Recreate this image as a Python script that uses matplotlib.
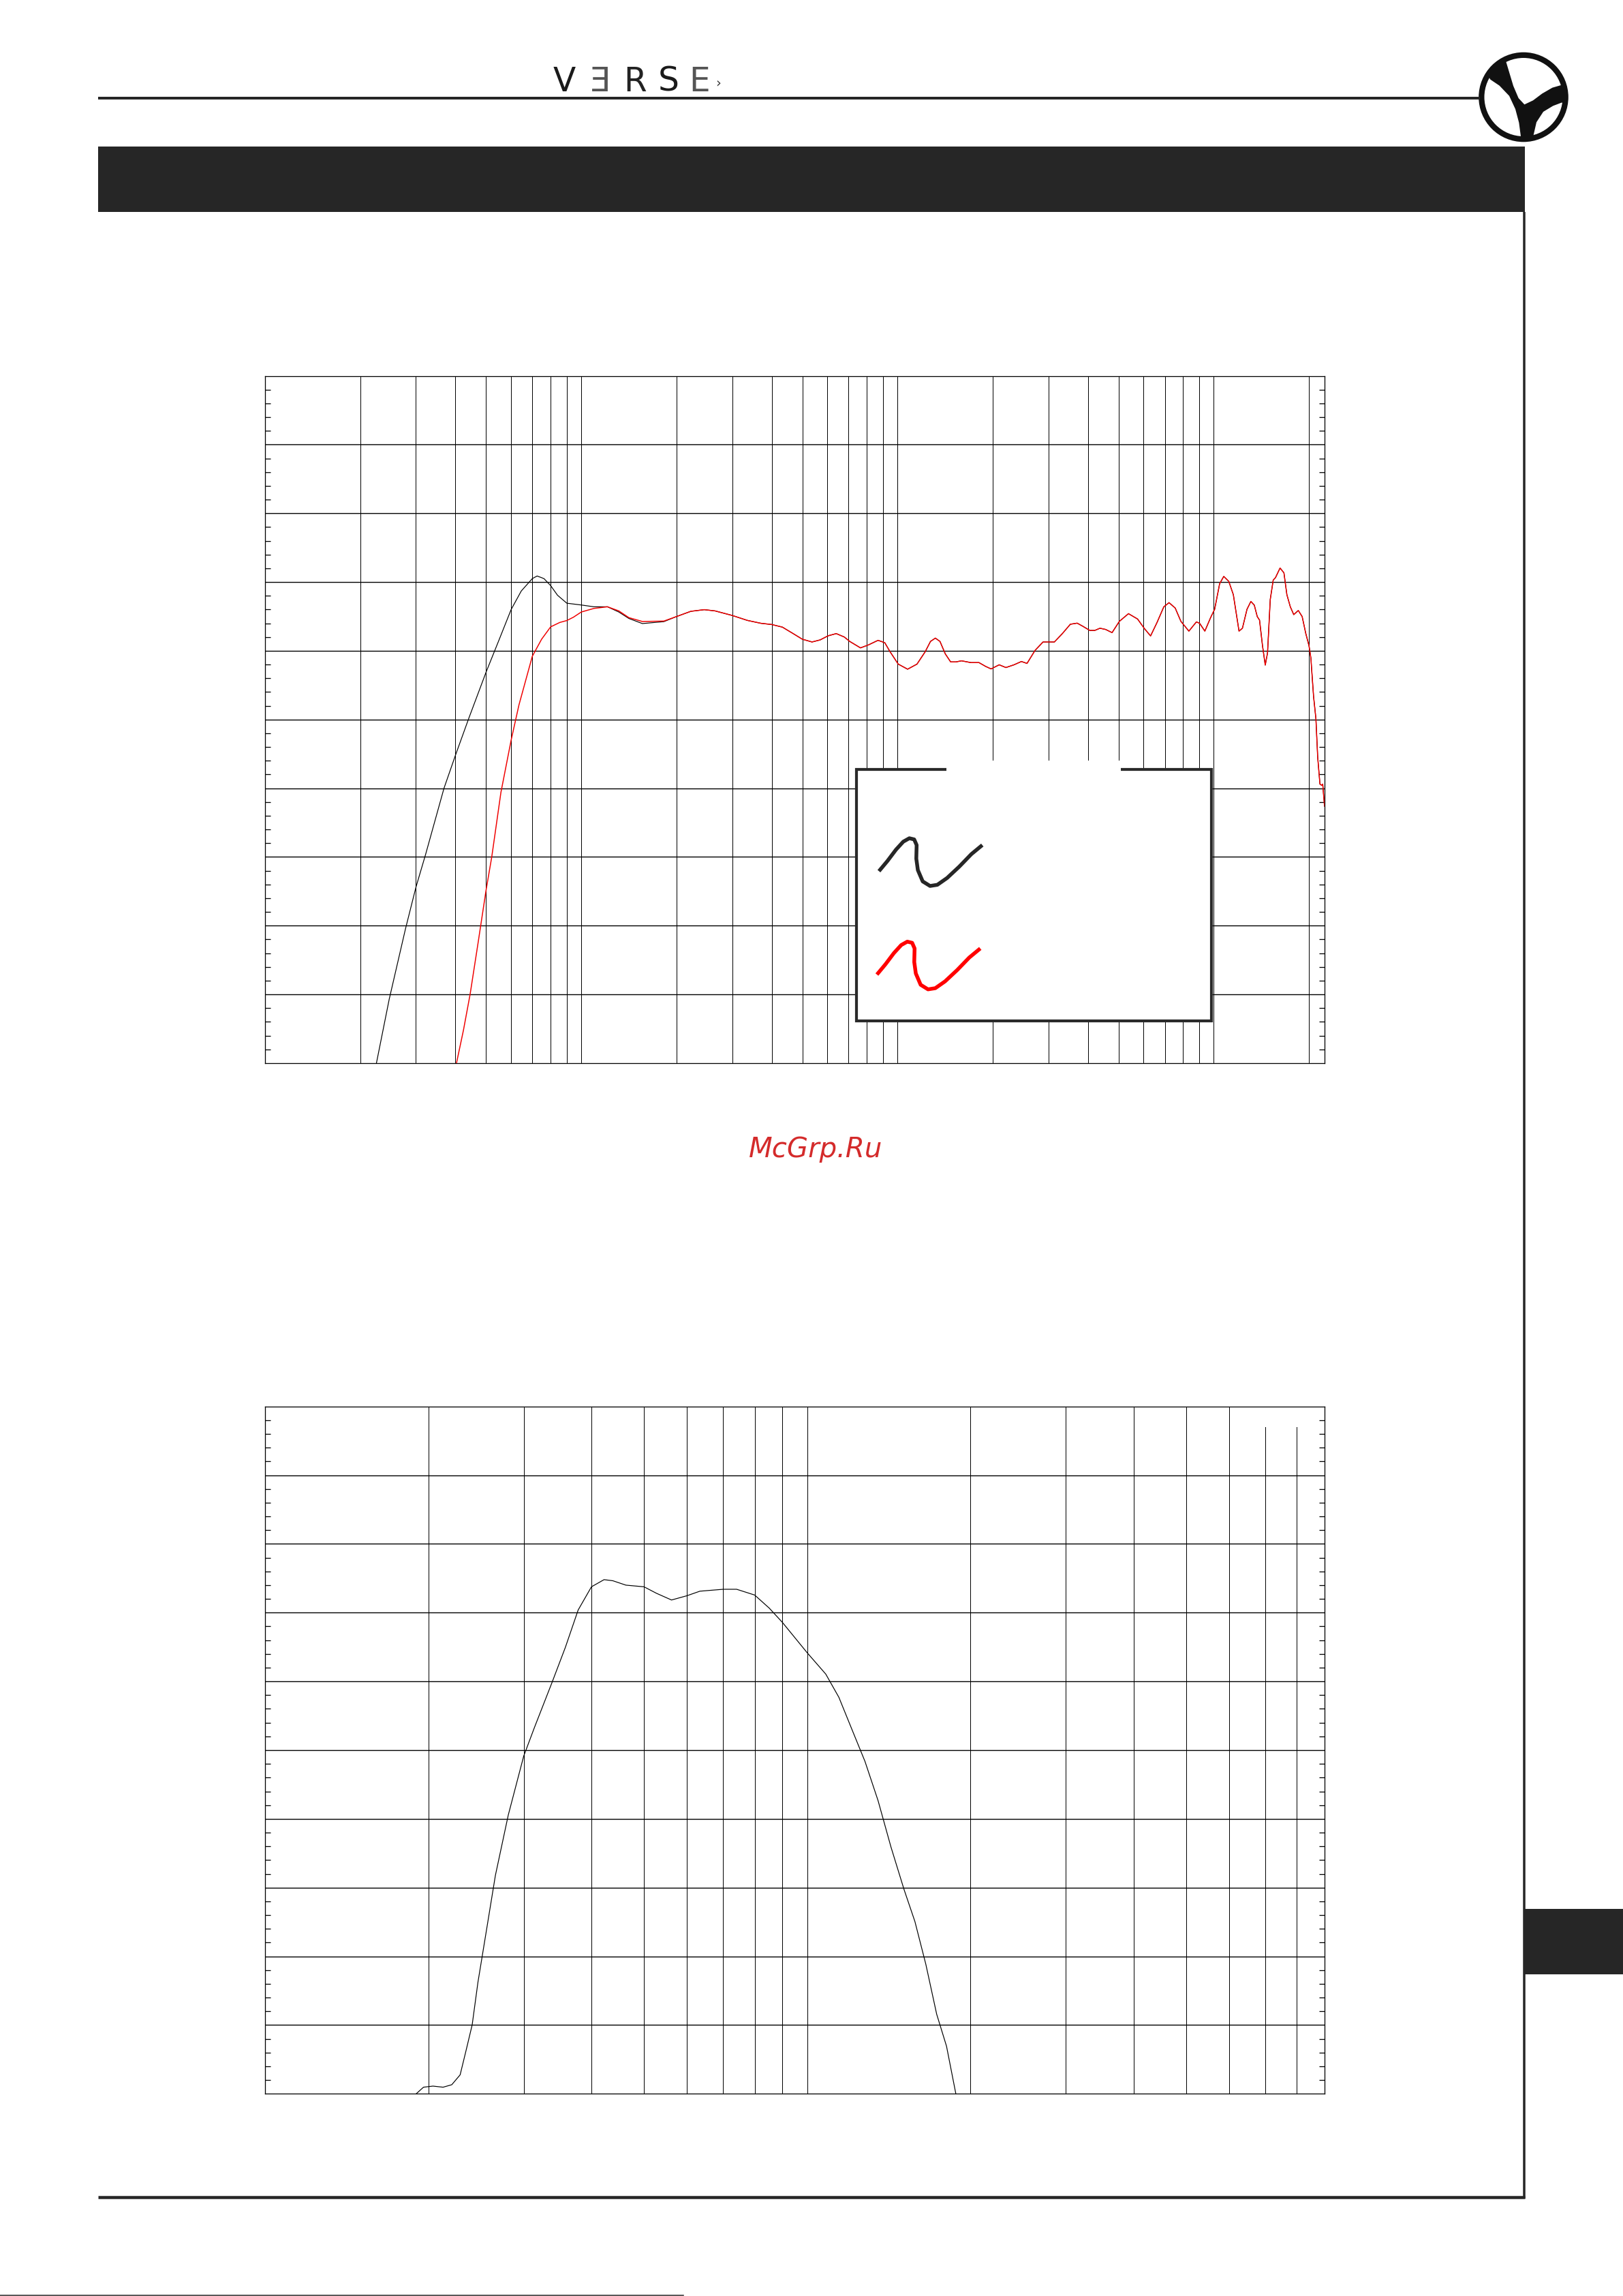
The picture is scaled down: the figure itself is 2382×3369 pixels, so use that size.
import numpy as np
import matplotlib
matplotlib.use('Agg')
import matplotlib.pyplot as plt
from matplotlib.patches import Rectangle, Circle, Polygon
from matplotlib.ticker import FixedLocator, NullLocator

W, H = 2382, 3369
DPI = 100
PX = 72 / DPI          # points per pixel

#%% Data (frequency in Hz, level in dB)
# top chart, red curve
red_freq = [40.3, 42.4, 44.5, 47.2, 50, 52.1, 55.7, 60, 63.5, 70, 74.9, 80, 85.5, 90, 94.4,
            100, 109.6, 121, 131.4, 141.4, 156, 182.4, 200, 222, 244.8, 264.8, 300, 335,
            369.6, 400, 432.4, 467.6, 500, 536.5, 569.1, 603.4, 640, 678.7, 706, 763.5,
            809.6, 867.6, 911, 947, 1005, 1076, 1152, 1223, 1271, 1317, 1362, 1416, 1472,
            1531, 1593, 1706, 1809, 1900, 1976, 2096, 2201, 2335, 2464, 2567, 2720, 2884,
            3133, 3320, 3519, 3698, 3855, 4053, 4204, 4366, 4550, 4768, 5028, 5373, 5741,
            6036, 6311, 6612, 6950, 7219, 7550, 7870, 8341, 8810, 9018, 9369, 9765, 10062,
            10435, 10752, 11152, 11529, 12016, 12318, 12735, 13100, 13430, 13720, 13952,
            14256, 14544, 14787, 15084, 15412, 15670, 16199, 16664, 17025, 17456, 17896,
            18500, 19028, 19540, 20000, 20270, 20680, 21030, 21310, 21660, 21950, 22100, 22390]
red_spl = [50, 52.4, 55.0, 58.8, 62.6, 65.0, 69.7, 73.5, 76.05, 79.6, 80.84, 81.74, 82.06, 82.2,
           82.44, 82.82, 83.08, 83.2, 82.9, 82.41, 82.13, 82.16, 82.49, 82.87, 82.99, 82.9,
           82.57, 82.21, 82.0, 81.91, 81.72, 81.25, 80.84, 80.64, 80.79, 81.09, 81.25, 81.0,
           80.68, 80.21, 80.43, 80.76, 80.59, 79.93, 79.03, 78.66, 79.03, 79.93, 80.68, 80.92,
           80.68, 79.77, 79.19, 79.19, 79.27, 79.14, 79.14, 78.86, 78.68, 78.98, 78.78, 78.98,
           79.22, 79.08, 80.02, 80.64, 80.64, 81.25, 81.93, 82.01, 81.78, 81.48, 81.48, 81.64,
           81.55, 81.32, 82.14, 82.70, 82.31, 81.61, 81.08, 82.05, 83.2, 83.5, 83.11, 82.14,
           81.43, 82.10, 82.0, 81.43, 82.40, 83.02, 84.88, 85.41, 85.05, 84.08, 81.43, 81.64,
           83.02, 83.59, 83.32, 82.49, 82.23, 80.37, 78.96, 79.84, 83.73, 85.14, 85.32, 86.02,
           85.67, 84.08, 83.2, 82.63, 82.93, 82.49, 81.25, 80.37, 79.49, 76.66, 75.07, 72.24,
           70.30, 70.21, 70.3, 68.7]

# top chart, black curve below 200 Hz (above that it sits under the red one)
black_freq_lf = [22.5, 24.7, 27.8, 30, 32.2, 36.8, 40, 44.1, 50, 54.7, 60, 64.6, 70, 72.5, 76.2,
                 80, 84.1, 90, 100, 109.6, 121, 131.4, 141.4, 156, 182.4]
black_spl_lf = [50, 54.66, 59.77, 62.8, 65.2, 70.0, 72.4, 75.1, 78.45, 80.68, 83.0, 84.35, 85.25,
                85.44, 85.25, 84.74, 84.04, 83.46, 83.33, 83.2, 83.2, 82.82, 82.35, 81.98, 82.12]

# bottom chart
sub_freq = [19.0, 19.6, 20.4, 21.3, 22.1, 22.9, 23.5, 24.1, 24.7, 25.7, 26.6, 28.1, 30, 31.4,
            33.8, 35.8, 37.8, 40, 42.2, 43.8, 46.3, 50, 52.7, 56.2, 60, 63.4, 70, 74.1, 80,
            85.1, 90, 100, 108.2, 114.4, 120.9, 127.8, 135.1, 142.7, 150.9, 158, 165.5, 173.3,
            180.7, 188]
sub_spl = [50, 50.48, 50.56, 50.48, 50.66, 51.38, 53.2, 55.01, 58.12, 62.27, 65.89, 70.29, 74.57,
           76.65, 79.88, 82.47, 85.19, 86.88, 87.4, 87.32, 87.0, 86.88, 86.41, 85.92, 86.23,
           86.56, 86.7, 86.7, 86.28, 85.33, 84.29, 82.08, 80.53, 78.84, 76.51, 74.18, 71.33,
           67.96, 64.85, 62.53, 59.42, 55.79, 53.46, 50]

red_freq = np.array(red_freq)
red_spl = np.array(red_spl)
hf = red_freq >= 200
black_freq = np.concatenate([black_freq_lf, red_freq[hf]])
black_spl = np.concatenate([black_spl_lf, red_spl[hf]])

y_range = (50, 100)
y_major = np.arange(55, 100, 5)
y_minor = [v for v in range(51, 100) if v % 5]

#%% Figure
fig = plt.figure(figsize=(W / DPI, H / DPI), dpi=DPI)
fig.patch.set_facecolor('white')


def chart(top, bottom, xlim, partial=None):
    ax = fig.add_axes([389 / W, 1 - bottom / H, 1555 / W, (bottom - top) / H])
    ax.set_xscale('log')
    ax.set_xlim(*xlim)
    ax.set_ylim(*y_range)
    ax.xaxis.set_major_locator(NullLocator())
    ax.xaxis.set_minor_locator(NullLocator())
    ax.yaxis.set_major_locator(FixedLocator(y_major))
    ax.yaxis.set_minor_locator(FixedLocator(y_minor))
    ax.tick_params(which='major', length=0, labelleft=False, labelbottom=False)
    ax.tick_params(which='minor', direction='in', length=8 * PX, width=1.3 * PX,
                   left=True, right=True, labelleft=False)
    for s in ax.spines.values():
        s.set_linewidth(1.3 * PX)
    partial = partial or {}
    for e in range(0, 6):
        for m in range(1, 10):
            f = m * 10 ** e
            if xlim[0] < f < xlim[1]:
                ax.axvline(f, ymin=0, ymax=partial.get(f, 1), color='black',
                           lw=1.0 * PX, zorder=1)
    for v in y_major:
        ax.axhline(v, color='black', lw=1.4 * PX, zorder=1)
    return ax


ax1 = chart(551.5, 1560, (10, 22400))
ax1.plot(black_freq, black_spl, color='black', lw=1.2 * PX, zorder=3)
ax1.plot(red_freq, red_spl, color='#f00000', lw=1.5 * PX, zorder=4)

ax2 = chart(2063.7, 3072.3, (10, 900), partial={700: 0.97, 800: 0.97})
ax2.plot(sub_freq, sub_spl, color='black', lw=1.2 * PX, zorder=3)

#%% Page decoration (pixel coordinates)
ov = fig.add_axes([0, 0, 1, 1], zorder=10)
ov.set_xlim(0, W)
ov.set_ylim(H, 0)
ov.axis('off')
ov.patch.set_alpha(0)

dark = '#262626'
ov.plot([144, 2172], [144, 144], color=dark, lw=4 * PX, solid_capstyle='butt')
ov.add_patch(Rectangle((144, 215), 2238 - 144, 96, color=dark, lw=0))
ov.plot([2236.5, 2236.5], [311, 3226], color=dark, lw=3.5 * PX, solid_capstyle='butt')
ov.plot([144, 2238], [3224, 3224], color=dark, lw=4.5 * PX, solid_capstyle='butt')
ov.add_patch(Rectangle((2238, 2801), W - 2238, 96, color=dark, lw=0))
ov.plot([0, 1003], [3367.5, 3367.5], color='#222222', lw=1.5 * PX)

# brand word
letters = ['V', 'Ǝ', 'R', 'S', 'E']
lx = [828, 881, 932, 981, 1027]
lc = ['#1a1a1a', '#555555', '#222222', '#1a1a1a', '#555555']
for t, x, c in zip(letters, lx, lc):
    ov.text(x, 134, t, ha='center', va='baseline', fontsize=35, color=c,
            family='DejaVu Sans', fontweight='normal')
ov.text(1054, 127, '›', ha='center', va='baseline', fontsize=14, color='#333333')

# round logo
cx, cy = 2236, 142.5
ov.add_patch(Circle((cx, cy), 65.8, color='#111111', lw=0))
inner = Circle((cx, cy), 57.5, transform=ov.transData)


def logo_pts(pts):
    return [(2150 + x / 3, 60 + y / 3) for x, y in pts]


lobes = [
    [(100, 150), (30, 200), (20, 350), (100, 470), (240, 480), (246, 420), (238, 360),
     (222, 300), (195, 242), (152, 197), (112, 170)],
    [(180, 40), (180, 88), (195, 138), (213, 198), (236, 252), (262, 280), (300, 262),
     (340, 232), (385, 206), (440, 190), (480, 100), (300, 10)],
    [(298, 432), (300, 490), (480, 410), (480, 270), (425, 272), (388, 286), (345, 312),
     (315, 358)],
]
for lb in lobes:
    p = Polygon(logo_pts(lb), closed=True, color='white', lw=0)
    ov.add_patch(p)
    p.set_clip_path(inner)

# legend frame
box_c = '#2a2a2a'
ov.add_patch(Rectangle((1389, 1116), 1645 - 1389, 14, color='white', lw=0))
ov.add_patch(Rectangle((1257, 1129), 1778 - 1257, 1498 - 1129, color='white', lw=0))
bw = 4.2 * PX
ov.plot([1389, 1257, 1257, 1778, 1778, 1645], [1129, 1129, 1498, 1498, 1129, 1129],
        color=box_c, lw=bw, solid_joinstyle='miter', solid_capstyle='butt')

icon = [(0, 0), (12.5, -15), (25, -31.6), (35.7, -43.3), (44.6, -48.3), (51.7, -46.6),
        (55.3, -38.3), (54.8, -18.3), (57.1, -1.6), (64.2, 15), (75, 21.7), (85.7, 20),
        (100, 10), (117.8, -6.6), (135.6, -25), (151.7, -38.3)]
for (x0, y0), c in [((1290, 1278.3), '#262626'), ((1287, 1430), '#ff0000')]:
    ov.plot([x0 + dx for dx, dy in icon], [y0 + dy for dx, dy in icon], color=c,
            lw=5.5 * PX, solid_joinstyle='round', solid_capstyle='butt')

# watermark
ov.text(1197, 1698, 'McGrp.Ru', ha='center', va='baseline', fontsize=29,
        style='italic', color='#d42b2b', family='DejaVu Sans')

fig.savefig('out.png', dpi=DPI, facecolor='white')
